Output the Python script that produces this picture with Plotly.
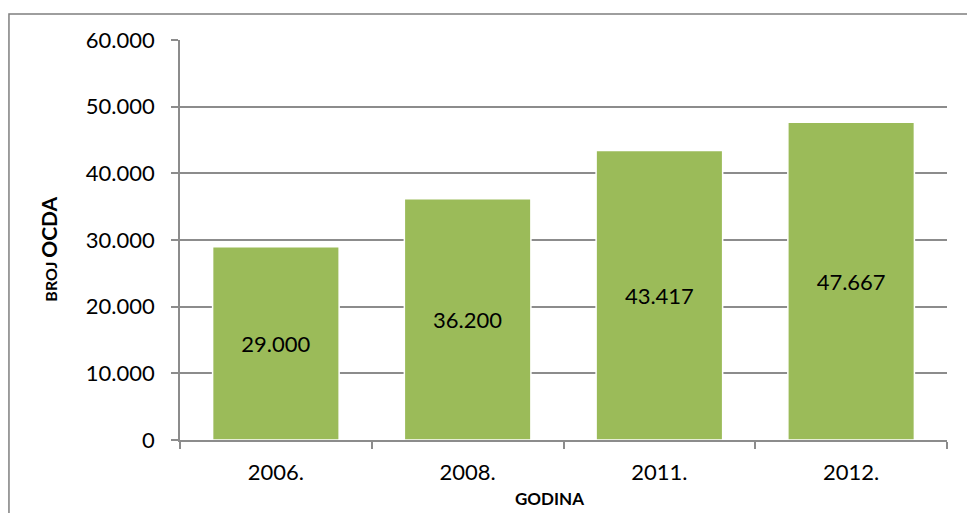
import plotly.graph_objects as go

# Data
godine = ['2006.', '2008.', '2011.', '2012.']
broj_ocda = [29000, 36200, 43417, 47667]
y_ticks = [0, 10000, 20000, 30000, 40000, 50000, 60000]

font_name = 'Lato, Carlito, Calibri, sans-serif'

fig = go.Figure()
fig.add_trace(go.Bar(
    x=godine, y=broj_ocda,
    marker=dict(color='#9BBB59', line=dict(color='white', width=1.5)),
    texttemplate='%{y:,d}', textposition='inside', insidetextanchor='middle',
    textfont=dict(family=font_name, size=22, color='black'),
    cliponaxis=False, hoverinfo='skip'))

layout = dict(
    width=967, height=513,
    margin=dict(l=180, r=20, t=40, b=73),
    separators=',.',
    paper_bgcolor='white', plot_bgcolor='white',
    font=dict(family=font_name, color='black'),
    showlegend=False, bargap=0.34,
    xaxis=dict(showline=True, linecolor='#8c8c8c', linewidth=1.5,
               ticks='outside', ticklen=7, tickcolor='#8c8c8c', tickwidth=1.5,
               tickson='boundaries', showgrid=False, automargin=False,
               tickfont=dict(size=22), ticklabelstandoff=12),
    yaxis=dict(range=[0, 60000], tickvals=y_ticks, tickformat=',d',
               showline=True, linecolor='#8c8c8c', linewidth=1.5,
               ticks='outside', ticklen=7, tickcolor='#8c8c8c', tickwidth=1.5,
               showgrid=True, gridcolor='#8c8c8c', gridwidth=1.5, zeroline=False,
               automargin=False, tickfont=dict(size=22), ticklabelstandoff=12),
)
fig.update_layout(layout)

# axis titles
fig.add_annotation(text="<b>BROJ <span style='font-size:21px'>OCDA</span></b>",
                   xref='paper', yref='paper', x=-0.171, y=0.478,
                   textangle=-90, showarrow=False, font=dict(size=16),
                   xanchor='center', yanchor='middle')
fig.add_annotation(text='<b>GODINA</b>', xref='paper', yref='paper',
                   x=0.482, y=-0.145, showarrow=False, font=dict(size=17),
                   xanchor='center', yanchor='middle')

# outer chart border
fig.add_shape(type='rect', xref='paper', yref='paper',
              x0=-0.223, x1=1.07, y0=-0.3, y1=1.065,
              line=dict(color='#7f7f7f', width=1.5), layer='below')

fig.write_html('out.html', config={'displayModeBar': False},
               post_script="document.body.style.margin='0px';")
